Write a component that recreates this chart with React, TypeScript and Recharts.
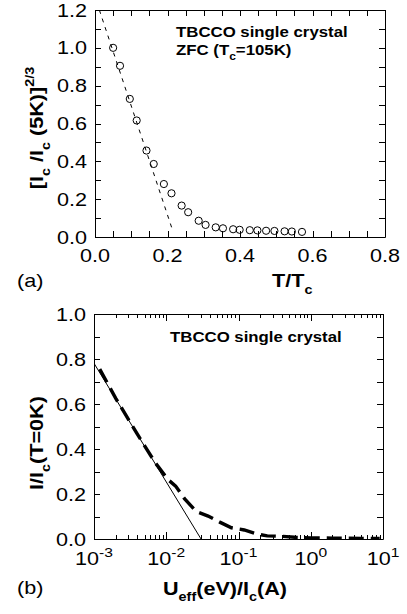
import React from 'react';
import { ComposedChart, Line, Scatter, XAxis, YAxis } from 'recharts';

const FONT = '"Liberation Sans", Arial, Helvetica, sans-serif';
const SX = 1.2;

// ---------- panel (a) data ----------
const tOverTc = [0.050, 0.069, 0.096, 0.115, 0.142, 0.162, 0.190, 0.211, 0.239, 0.257, 0.286, 0.305,
  0.333, 0.353, 0.381, 0.399, 0.427, 0.448, 0.472, 0.495, 0.523, 0.543, 0.571];
const icNorm = [1.0, 0.905, 0.73, 0.616, 0.457, 0.386, 0.28, 0.231, 0.166, 0.131, 0.086, 0.064,
  0.051, 0.046, 0.041, 0.038, 0.036, 0.035, 0.033, 0.032, 0.030, 0.029, 0.027];
const fitT = [0.012, 0.215];
const fitY = [1.2, 0.03];
const xTicksA = [0, 0.05, 0.1, 0.15, 0.2, 0.25, 0.3, 0.35, 0.4, 0.45, 0.5, 0.55, 0.6, 0.65, 0.7, 0.75, 0.8];
const yTicksA = [0, 0.1, 0.2, 0.3, 0.4, 0.5, 0.6, 0.7, 0.8, 0.9, 1.0, 1.1, 1.2];

// ---------- panel (b) data ----------
const solidU = [0.001, 0.0303];
const solidI = [0.781, 0];
const dashU = [0.0012, 0.002, 0.004, 0.007, 0.0105, 0.0135, 0.018, 0.026, 0.038, 0.055, 0.08, 0.12,
  0.18, 0.25, 0.4, 0.6, 1.0, 2.0, 5.0, 9.0];
const dashI = [0.755, 0.625, 0.465, 0.34, 0.265, 0.235, 0.178, 0.122, 0.102, 0.075, 0.05, 0.04,
  0.022, 0.014, 0.012, 0.008, 0.005, 0.004, 0.003, 0.002];
const xTicksB = [0.001, 0.002, 0.003, 0.004, 0.005, 0.006, 0.007, 0.008, 0.009,
  0.01, 0.02, 0.03, 0.04, 0.05, 0.06, 0.07, 0.08, 0.09,
  0.1, 0.2, 0.3, 0.4, 0.5, 0.6, 0.7, 0.8, 0.9,
  1, 2, 3, 4, 5, 6, 7, 8, 9, 10];
const xMajorB = [0.001, 0.01, 0.1, 1, 10];
const xExpB = ['-3', '-2', '-1', '0', '1'];
const yTicksB = [0, 0.1, 0.2, 0.3, 0.4, 0.5, 0.6, 0.7, 0.8, 0.9, 1.0];

const ptsA = tOverTc.map((t, i) => ({ x: t, y: icNorm[i] }));
const fitA = fitT.map((t, i) => ({ x: t, y: fitY[i] }));
const solidB = solidU.map((u, i) => ({ x: u, y: solidI[i] }));
const dashB = dashU.map((u, i) => ({ x: u, y: dashI[i] }));

// plot rectangles (chart-local pixel coords)
const PA = { left: 95, top: 10, right: 385, bottom: 237 };
const PB = { left: 94, top: 14, right: 383, bottom: 239 };
const B_OFF = 300; // page offset of panel (b)

type TxtProps = { x: number; y: number; anchor?: 'start' | 'middle' | 'end'; size?: number; bold?: boolean; rotate?: boolean; children?: React.ReactNode };
const Txt = ({ x, y, anchor = 'start', size = 18, bold = false, rotate = false, children }: TxtProps) => (
  <text
    transform={`translate(${x},${y})${rotate ? ' rotate(-90)' : ''} scale(${SX},1)`}
    x={0}
    y={0}
    textAnchor={anchor}
    fontSize={size}
    fontWeight={bold ? 'bold' : 'normal'}
    fontFamily={FONT}
    fill="#000"
  >
    {children}
  </text>
);

const isMult = (v: number, m: number) => Math.abs(v / m - Math.round(v / m)) < 1e-6;
const isMajorB = (v: number) => xMajorB.findIndex((m) => Math.abs(m - v) / m < 1e-6);

// ---- axis tick labels (rendered by the axes) ----
const XTickA = (p: any) => {
  const v = p.payload.value;
  return isMult(v, 0.2) ? <Txt x={p.x} y={PA.bottom + 25} anchor="middle">{v.toFixed(1)}</Txt> : <g />;
};
const YTickA = (p: any) => {
  const v = p.payload.value;
  return isMult(v, 0.2) ? <Txt x={PA.left - 8} y={p.y + 6.5} anchor="end">{v.toFixed(1)}</Txt> : <g />;
};
const XTickB = (p: any) => {
  const mi = isMajorB(p.payload.value);
  return mi >= 0 ? (
    <Txt x={p.x} y={PB.bottom + 26} anchor="middle">
      10<tspan fontSize={13} dy={-8}>{xExpB[mi]}</tspan>
    </Txt>
  ) : <g />;
};
const YTickB = (p: any) => {
  const v = p.payload.value;
  return isMult(v, 0.2) ? <Txt x={PB.left - 8} y={p.y + 6.5} anchor="end">{v.toFixed(1)}</Txt> : <g />;
};

const Circle = (p: any) => <circle cx={p.cx} cy={p.cy} r={3.6} fill="none" stroke="#000" strokeWidth={1} />;

// ---- frame + inward ticks on all four sides (decoration overlay) ----
const px = (v: number) => Math.round(v) + 0.5;
const frameA = () => {
  const L = PA.left, R = PA.right, T = PA.top, Bm = PA.bottom;
  let d = `M${px(L)},${px(T)}H${px(R)}V${px(Bm)}H${px(L)}Z`;
  xTicksA.forEach((v) => {
    const x = px(L + (v / 0.8) * (R - L));
    d += `M${x},${Bm}V${Bm - 6}M${x},${T}V${T + 6}`;
  });
  yTicksA.forEach((v) => {
    const y = px(Bm - (v / 1.2) * (Bm - T));
    d += `M${L},${y}H${L + 6}M${R},${y}H${R - 6}`;
  });
  return d;
};
const frameB = () => {
  const L = PB.left, R = PB.right, T = PB.top + B_OFF, Bm = PB.bottom + B_OFF;
  let d = `M${px(L)},${px(T)}H${px(R)}V${px(Bm)}H${px(L)}Z`;
  xTicksB.forEach((v) => {
    const x = px(L + ((Math.log10(v) + 3) / 4) * (R - L));
    const len = isMajorB(v) >= 0 ? 7 : 4;
    d += `M${x},${Bm}V${Bm - len}M${x},${T}V${T + len}`;
  });
  yTicksB.forEach((v) => {
    const y = px(Bm - v * (Bm - T));
    d += `M${L},${y}H${L + 6}M${R},${y}H${R - 6}`;
  });
  return d;
};

const Overlay = () => (
  <svg width={407} height={614} style={{ position: 'absolute', left: 0, top: 0, pointerEvents: 'none' }}>
    <path d={frameA()} stroke="#000" strokeWidth={1} fill="none" />
    <path d={frameB()} stroke="#000" strokeWidth={1} fill="none" />
    {/* panel (a) */}
    <Txt x={176} y={37} size={14} bold>TBCCO single crystal</Txt>
    <Txt x={176} y={55} size={14} bold>
      ZFC (T<tspan fontSize={10} dy={5}>c</tspan><tspan dy={-5}>=105K)</tspan>
    </Txt>
    <Txt x={17} y={287}>(a)</Txt>
    <Txt x={272} y={287} bold>
      T/T<tspan fontSize={12} dy={7}>c</tspan>
    </Txt>
    <Txt x={43} y={128} anchor="middle" rotate bold>
      [I<tspan fontSize={12} dy={7}>c</tspan><tspan dy={-7}> /I</tspan><tspan fontSize={12} dy={7}>c</tspan>
      <tspan dy={-7}> (5K)]</tspan><tspan fontSize={12} dy={-9}>2/3</tspan>
    </Txt>
    {/* panel (b) */}
    <Txt x={170} y={342} size={14} bold>TBCCO single crystal</Txt>
    <Txt x={17} y={594}>(b)</Txt>
    <Txt x={163} y={595} bold>
      U<tspan fontSize={12} dy={6}>eff</tspan><tspan dy={-6}>(eV)/I</tspan><tspan fontSize={12} dy={6}>c</tspan>
      <tspan dy={-6}>(A)</tspan>
    </Txt>
    <Txt x={43} y={443} anchor="middle" rotate bold>
      I/I<tspan fontSize={12} dy={7}>c</tspan><tspan dy={-7}>(T=0K)</tspan>
    </Txt>
  </svg>
);

export default function App() {
  return (
    <div style={{ position: 'absolute', left: 0, top: 0, width: 407, height: 614, background: '#fff' }}>
      <div style={{ position: 'absolute', left: 0, top: 0 }}>
        <ComposedChart width={407} height={300} margin={{ top: 10, right: 22, bottom: 33, left: 35 }}>
          <XAxis
            dataKey="x"
            type="number"
            domain={[0, 0.8]}
            ticks={xTicksA}
            interval={0}
            height={30}
            tickSize={0}
            tickMargin={0}
            tickLine={false}
            axisLine={false}
            tick={<XTickA />}
            allowDataOverflow
          />
          <YAxis
            dataKey="y"
            type="number"
            domain={[0, 1.2]}
            ticks={yTicksA}
            interval={0}
            width={60}
            tickSize={0}
            tickMargin={0}
            tickLine={false}
            axisLine={false}
            tick={<YTickA />}
            allowDataOverflow
          />
          <Line data={fitA} dataKey="y" stroke="#000" strokeWidth={1} strokeDasharray="4 5" dot={false} isAnimationActive={false} />
          <Scatter data={ptsA} dataKey="y" shape={<Circle />} isAnimationActive={false} />
        </ComposedChart>
      </div>
      <div style={{ position: 'absolute', left: 0, top: B_OFF }}>
        <ComposedChart width={407} height={314} margin={{ top: 14, right: 24, bottom: 45, left: 34 }}>
          <XAxis
            dataKey="x"
            type="number"
            scale="log"
            domain={[0.001, 10]}
            ticks={xTicksB}
            interval={0}
            height={30}
            tickSize={0}
            tickMargin={0}
            tickLine={false}
            axisLine={false}
            tick={<XTickB />}
            allowDataOverflow
          />
          <YAxis
            dataKey="y"
            type="number"
            domain={[0, 1]}
            ticks={yTicksB}
            interval={0}
            width={60}
            tickSize={0}
            tickMargin={0}
            tickLine={false}
            axisLine={false}
            tick={<YTickB />}
            allowDataOverflow
          />
          <Line data={solidB} dataKey="y" stroke="#000" strokeWidth={1} dot={false} isAnimationActive={false} />
          <Line data={dashB} dataKey="y" stroke="#000" strokeWidth={3.4} strokeDasharray="15 7" dot={false} isAnimationActive={false} />
        </ComposedChart>
      </div>
      <Overlay />
    </div>
  );
}
